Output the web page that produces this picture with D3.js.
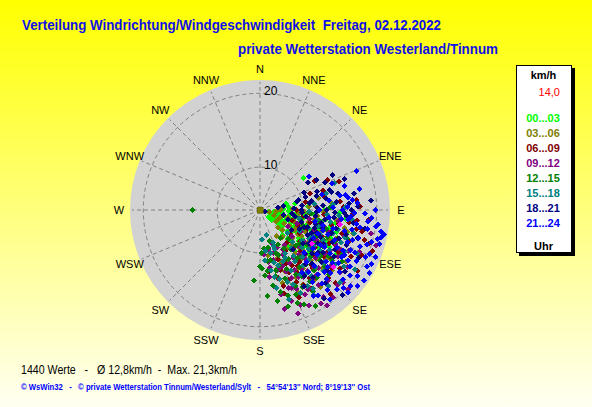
<!DOCTYPE html>
<html><head><meta charset="utf-8">
<script src="https://cdn.jsdelivr.net/npm/d3@7"></script>
<style>html,body{margin:0;padding:0;overflow:hidden;background:#fff}svg{display:block}</style>
</head><body>
<script>
// ---------- data ----------
const directions = ["N","NNE","NE","ENE","E","ESE","SE","SSE","S","SSW","SW","WSW","W","WNW","NW","NNW"];
const ringValues = [10, 20];
const timeLabels = ["00...03","03...06","06...09","09...12","12...15","15...18","18...21","21...24"];
const timeColors = ["#00ff00","#808000","#800000","#800080","#008000","#008080","#000080","#0000ff"];
const legendSpeed = "14,0";
const titleLine1 = "Verteilung Windrichtung/Windgeschwindigkeit  Freitag, 02.12.2022";
const titleLine2 = "private Wetterstation Westerland/Tinnum";
const statsLine = "1440 Werte   -   \u00D8 12,8km/h  -  Max. 21,3km/h";
const copyLine = "\u00A9 WsWin32   -   \u00A9 private Wetterstation Tinnum/Westerland/Sylt   -   54\u00B054'13'' Nord; 8\u00B019'13'' Ost";

// [direction in degrees, speed in km/h]
const s0003 = [[95,6.1],[102,6.8],[110,7.2],[118,6.5],[125,7.9],[88,7.4],[98,8.3],[106,8.9],[114,9.4],[121,8.6],[130,9.8],[84,8.1],[92,9.6],[100,10.2],[108,10.8],[117,10.4],[124,11.2],[135,10.1],[79,9.0],[86,10.7],[95,11.5],[103,11.9],[112,12.3],[120,12.8],[128,12.1],[140,11.6],[54,11.5],[90,12.9],[98,13.3],[106,13.8],[115,14.2],[123,13.6],[132,13.0],[145,12.4],[150,10.9],[138,8.8],[128,7.4],[82,6.6],[76,7.8],[112,8.0],[104,7.6],[96,9.1],[118,11.6],[126,10.6],[109,12.6],[100,14.6],[110,15.3],[88,14.0],[96,15.8],[104,16.4],[92,15.0],[99,5.4],[115,5.9],[130,6.3],[108,6.0],[121,9.9],[134,11.4],[101,12.7],[113,10.9],[119,7.7],[127,8.9],[105,9.9],[93,10.9],
  [104,6.4],[111,6.9],[116,7.5],[123,7.1],[106,8.4],[113,8.7],[119,9.1],[126,9.4],[101,9.4],[109,9.8],[116,10.1],[122,10.5],[129,10.9],[105,11.1],[111,11.4],[117,11.8],[124,12.2],[131,11.9],[102,12.3],[108,13.0],[114,13.1],[119,13.4],[127,13.9],[103,14.0],[112,14.5],[118,14.9],[125,15.1],[97,7.2],[92,8.0],[133,8.2],[137,9.6],[142,10.3],[108,5.6],[121,6.0],[128,5.7],[96,10.4],[99,12.1],[106,15.0],[120,16.1],[98,17.0]];
const s0306 = [[100,5.5],[112,6.2],[125,6.9],[90,7.0],[135,7.6],[105,8.1],[118,8.7],[128,9.3],[140,9.0],[95,9.5],[110,10.2],[122,10.8],[134,11.3],[146,10.5],[86,10.9],[100,11.6],[114,12.2],[127,12.7],[139,12.9],[152,12.0],[92,12.8],[106,13.4],[119,13.9],[131,14.3],[144,14.0],[158,13.2],[98,14.7],[111,15.2],[124,15.6],[137,15.1],[150,15.8],[163,14.6],[84,13.9],[78,12.3],[116,16.5],[130,16.9],[104,17.2],[142,17.5],[120,9.6],[108,7.2],[160,11.1],[170,10.4],[148,8.4],[155,16.6],[82,7.3],[88,8.6],[96,6.4],[116,11.0],[126,13.1],[113,14.4],[136,12.4],[148,13.7],[102,15.9],[121,17.8],
  [108,9.0],[115,9.7],[123,10.3],[131,10.0],[138,10.6],[104,11.0],[118,11.5],[125,12.0],[133,12.3],[141,11.8],[110,12.9],[117,13.5],[124,14.1],[129,13.5],[135,13.9],[112,16.0],[119,16.4],[127,15.4],[133,15.7],[141,16.2],[104,16.3],[96,12.0],[92,10.2],[146,12.6],[152,14.6],[158,11.7],[164,12.5],[120,7.9],[132,8.3],[113,7.0]];
const s0609 = [[62,12.6],[70,15.6],[73,13.1],[84,17.3],[88,17.7],[95,19.0],[66,14.2],[78,13.0],[86,11.8],[94,12.9],[102,14.1],[110,15.4],[118,16.3],[126,17.6],[134,18.4],[142,17.1],[150,15.9],[158,14.4],[165,13.8],[172,12.6],[160,11.3],[148,10.7],[136,12.0],[124,13.2],[112,11.1],[100,10.0],[90,9.2],[80,10.5],[72,11.3],[98,16.4],[106,18.9],[114,19.2],[122,19.8],[130,15.0],[138,14.8],[146,13.3],[154,12.2],[120,10.4],[108,8.8],[128,9.5],[140,9.9],[96,13.6],[104,12.4],[116,14.6],[132,16.2],[156,17.2],[164,16.0],[84,15.1],[92,16.8],[110,20.4],[165,13.6],[118,12.2],[126,14.9],[106,15.8],[138,11.1],[144,15.6],[101,17.5],[113,13.3],
  [104,11.2],[111,12.3],[119,13.6],[125,12.6],[131,13.8],[137,14.3],[143,13.0],[149,14.1],[155,13.5],[161,12.8],[108,14.3],[115,15.5],[121,15.0],[129,16.7],[135,17.3],[141,16.0],[147,16.9],[153,15.1],[100,15.0],[96,17.4],[102,18.3],[109,17.0],[117,18.0],[124,16.0],[140,19.0],[88,15.5],[94,11.0],[112,9.7],[128,11.1],[150,12.9],[163,15.0],[107,19.6]];
const s0912 = [[112,14.0],[120,15.2],[128,16.4],[136,17.5],[144,18.8],[145,20.0],[152,17.2],[158,15.6],[166,18.0],[171,11.3],[162,12.5],[158,12.4],[150,13.6],[142,14.7],[134,12.8],[126,11.6],[118,10.5],[110,12.0],[104,13.1],[98,14.9],[107,20.6],[115,17.4],[123,18.3],[131,19.1],[139,15.9],[147,15.0],[155,14.3],[160,15.4],[170,12.1],[175,10.2],[168,9.6],[160,9.0],[150,10.4],[140,11.0],[130,9.8],[120,8.6],[107,16.2],[102,19.6],[113,18.8],[127,13.9],[137,13.3],[145,12.1],[153,11.0],[165,11.2],[118,12.9],[110,9.5],[100,11.0],[142,17.1],[157,18.2],[148,16.6],[132,20.3],[124,14.8],[116,16.1],[135,15.4],
  [118,14.0],[124,13.0],[131,14.1],[137,14.9],[143,15.9],[149,16.8],[155,16.0],[161,17.2],[166,16.0],[170,14.7],[172,13.4],[164,12.7],[157,13.2],[151,12.4],[145,14.0],[139,12.2],[133,11.4],[127,12.5],[121,16.5],[128,17.9],[134,18.8],[140,19.6],[147,19.3],[153,18.7],[160,19.1],[114,15.4],[108,13.9],[102,16.9],[150,14.7],[163,10.3],[156,9.8],[145,10.0]];
const s1215 = [[270,13.4],[185,13.8],[175,15.9],[166,15.7],[162,16.4],[155,15.6],[148,14.8],[140,13.9],[165,12.7],[172,11.2],[178,10.0],[168,9.4],[158,10.8],[150,11.9],[142,12.4],[135,11.0],[128,12.8],[120,14.0],[113,15.2],[106,13.6],[100,12.3],[94,11.1],[125,16.1],[133,17.0],[140,16.2],[147,17.4],[155,18.3],[160,14.1],[170,14.6],[176,13.1],[180,11.8],[163,8.6],[152,9.5],[144,8.9],[136,9.7],[118,11.5],[110,10.4],[103,9.8],[130,14.8],[122,17.3],[115,12.6],[88,13.7],[96,15.3],[150,19.2],[158,17.8],[126,12.1],[138,15.2],[108,16.6],
  [115,13.7],[121,12.9],[127,14.5],[133,13.5],[139,12.6],[145,13.6],[151,14.2],[156,13.0],[161,12.1],[167,13.4],[173,12.5],[178,12.1],[169,16.7],[164,17.8],[157,16.6],[151,16.1],[145,16.0],[138,17.8],[131,15.9],[124,15.4],[118,16.9],[112,14.0],[106,12.5],[142,11.0],[148,10.3],[154,11.7],[160,10.5],[168,11.1],[174,9.4],[130,11.3]];
const s1518 = [[176,8.2],[165,7.7],[160,9.8],[152,11.5],[146,12.6],[140,10.9],[132,11.8],[124,12.9],[116,13.7],[108,14.6],[100,12.0],[92,10.8],[84,11.6],[76,13.4],[70,14.9],[88,15.8],[96,16.7],[104,17.3],[112,16.0],[120,15.1],[128,14.2],[136,13.6],[144,14.8],[148,17.8],[148,16.3],[156,15.2],[164,13.9],[170,12.5],[174,11.1],[166,10.2],[158,8.9],[130,9.1],[118,10.3],[110,11.2],[102,9.6],[94,13.3],[86,14.1],[114,18.6],[122,19.4],[138,18.1],[162,16.9],[126,16.8],[134,16.1],[142,15.5],[168,15.0],[104,15.1],[116,12.1],[129,12.6],
  [112,13.0],[118,14.3],[124,14.0],[130,15.4],[136,15.0],[142,13.7],[148,14.5],[153,13.4],[159,14.6],[162,12.1],[156,11.8],[150,11.0],[144,11.9],[138,12.8],[126,11.2],[120,11.9],[106,12.4],[100,13.9],[94,14.9],[108,16.3],[116,17.0],[124,17.9],[132,18.8],[146,17.0],[154,16.7],[168,13.5],[172,9.8],[160,9.4],[165,11.6],[135,10.4]];
const s1821 = [[109,4.9],[82,6.7],[80,7.4],[77,9.3],[74,10.6],[60,11.7],[56,12.2],[62,12.9],[74,14.0],[76,14.2],[78,15.0],[86,16.3],[88,17.5],[92,14.4],[98,13.1],[104,12.0],[110,11.0],[116,10.1],[122,9.3],[128,11.6],[134,12.7],[140,13.8],[146,15.0],[124,14.5],[118,15.7],[112,16.8],[106,17.9],[100,18.6],[94,16.0],[86,12.8],[80,11.3],[68,10.6],[90,9.8],[96,8.6],[102,7.4],[108,8.2],[114,13.2],[120,12.3],[132,16.4],[138,17.5],[126,18.4],[144,19.0],[150,16.1],[85,19.3],[70,16.4],[64,15.1],[100,15.2],[108,14.4],[116,19.0],[130,13.4],[140,11.2],[136,20.2],[72,12.3],[84,9.9],[92,11.9],[98,10.5],[106,13.0],[112,12.5],[67,13.7],
  [88,8.8],[94,9.9],[100,9.0],[106,10.1],[112,10.6],[118,11.5],[124,12.2],[96,11.8],[102,12.7],[108,12.0],[114,11.8],[120,13.3],[126,13.9],[90,13.2],[96,14.3],[104,14.8],[110,15.6],[118,14.0],[84,14.6],[80,13.3],[76,12.1],[82,11.0],[88,12.0],[92,15.6],[98,17.0],[106,16.3],[114,14.9],[122,16.0],[130,15.1],[136,14.3],[142,15.8],[80,17.1],[90,16.6],[75,9.6]];
const s2124 = [[56,12.2],[68,18.3],[78,18.0],[80,16.0],[90,19.8],[97,20.3],[101,21.3],[103,21.0],[104,20.6],[108,19.4],[112,20.2],[118,19.0],[124,20.1],[124,21.2],[130,20.2],[133,19.7],[133,20.5],[140,18.4],[136,17.2],[128,17.8],[120,16.9],[114,17.6],[106,18.1],[98,17.4],[92,18.4],[84,16.8],[80,15.2],[74,16.1],[70,14.6],[88,14.1],[96,15.3],[104,16.0],[112,15.1],[120,14.3],[128,15.5],[136,14.8],[144,16.3],[148,17.9],[142,19.6],[116,21.0],[110,18.6],[100,19.0],[94,16.6],[82,13.6],[108,13.2],[118,12.4],[126,13.1],[134,12.5],[102,11.8],[90,12.2],[76,12.8],[146,14.4],[138,15.9],[122,18.6],[114,19.8],[98,20.1],[106,21.0],[92,17.0],[100,17.9],[110,16.8],[118,17.2],[126,16.4],[130,18.9],[86,17.4],[96,18.9],
  [96,16.2],[102,16.9],[108,17.4],[114,18.3],[120,17.9],[126,19.3],[132,17.0],[104,14.4],[110,14.0],[116,15.8],[122,15.4],[128,14.0],[134,16.3],[140,17.2],[100,20.8],[106,19.9],[112,21.1],[118,20.6],[120,21.3],[128,20.9],[94,19.3],[82,16.2],[88,16.0],[90,15.4],[96,13.6],[104,13.0],[112,12.7],[120,13.7],[138,13.6],[142,14.9],[146,18.2],[136,19.2],[130,16.2],[124,17.0],[116,16.7]];
const timeSeries = [s0003, s0306, s0609, s0912, s1215, s1518, s1821, s2124];
const highlight = [[123,12.6],[128,16.8],[100,15.2]];
const calm = [[0,4.2]];

// ---------- drawing ----------
const W = 592, H = 407;
const cx = 260, cy = 210;
const font = "'Liberation Sans', Arial, Helvetica, sans-serif";
const svg = d3.select("body").append("svg").attr("width", W).attr("height", H);

const defs = svg.append("defs");
const grad = defs.append("linearGradient").attr("id", "bg").attr("x1", 0).attr("y1", 0).attr("x2", 0).attr("y2", 1);
grad.append("stop").attr("offset", "0%").attr("stop-color", "#ffff00");
grad.append("stop").attr("offset", "100%").attr("stop-color", "#fffff2");
svg.append("rect").attr("width", W).attr("height", H).attr("fill", "url(#bg)");

const rScale = d3.scaleLinear().domain([4.2, 21.8]).range([0, 130]);
const aScale = d3.scaleLinear().domain([0, 360]).range([0, 2 * Math.PI]);
const dirAngle = d3.scalePoint().domain(directions).range([0, 360 - 360 / directions.length]);
const colorScale = d3.scaleOrdinal().domain(timeLabels).range(timeColors);

function px(d) { return cx + rScale(d[1]) * Math.sin(aScale(d[0])); }
function py(d) { return cy - rScale(d[1]) * Math.cos(aScale(d[0])); }

const outerR = rScale(rScale.domain()[1]);
svg.append("circle").attr("cx", cx).attr("cy", cy).attr("r", outerR).attr("fill", "#d2d2d2");

const grid = svg.append("g").attr("stroke", "#808080").attr("stroke-dasharray", "4,3").attr("fill", "none").attr("stroke-width", 1);
grid.selectAll("line").data(directions).join("line")
  .attr("x1", cx).attr("y1", cy)
  .attr("x2", d => cx + (outerR - 2) * Math.sin(aScale(dirAngle(d))))
  .attr("y2", d => cy - (outerR - 2) * Math.cos(aScale(dirAngle(d))));
grid.selectAll("circle").data(ringValues).join("circle")
  .attr("cx", cx).attr("cy", cy).attr("r", d => rScale(d));

svg.selectAll(".ringlab").data(ringValues).join("text")
  .attr("x", cx + 4).attr("y", d => cy - rScale(d) + 2)
  .attr("font-family", font).attr("font-size", 12).attr("fill", "#000")
  .text(d => d);

svg.selectAll(".dirlab").data(directions).join("text")
  .attr("x", d => cx + 141 * Math.sin(aScale(dirAngle(d))))
  .attr("y", d => cy - 141 * Math.cos(aScale(dirAngle(d))) + 4)
  .attr("text-anchor", "middle")
  .attr("font-family", font).attr("font-size", 11).attr("fill", "#000")
  .text(d => d);

const diamond = "M0,-3L3,0L0,3L-3,0Z";
const pts = svg.append("g").attr("shape-rendering", "crispEdges");
timeSeries.forEach((arr, i) => {
  pts.append("g").attr("fill", colorScale(timeLabels[i]))
    .selectAll("path").data(arr).join("path")
    .attr("d", diamond)
    .attr("transform", d => `translate(${px(d)},${py(d)})`);
});
pts.append("g").attr("fill", "#ff00ff").selectAll("path").data(highlight).join("path")
  .attr("d", diamond).attr("transform", d => `translate(${px(d)},${py(d)})`);
pts.append("g").selectAll("rect").data(calm).join("rect")
  .attr("x", d => px(d) - 3).attr("y", d => py(d) - 3).attr("width", 6).attr("height", 6)
  .attr("fill", timeColors[1]).attr("stroke", "#605f00").attr("stroke-width", 0.5);

// titles
svg.append("text").attr("x", 22).attr("y", 30).attr("font-family", font).attr("font-weight", "bold")
  .attr("font-size", 14).attr("fill", "#1010e8").attr("textLength", 419).attr("lengthAdjust", "spacingAndGlyphs")
  .style("white-space", "pre").text(titleLine1);
svg.append("text").attr("x", 238).attr("y", 54).attr("font-family", font).attr("font-weight", "bold")
  .attr("font-size", 14).attr("fill", "#1010e8").attr("textLength", 260).attr("lengthAdjust", "spacingAndGlyphs").text(titleLine2);

// legend
const lg = svg.append("g");
lg.append("rect").attr("x", 519).attr("y", 68).attr("width", 56).attr("height", 188).attr("fill", "#000");
lg.append("rect").attr("x", 516.5).attr("y", 65.5).attr("width", 55).attr("height", 187).attr("fill", "#fff").attr("stroke", "#000").attr("stroke-width", 1);
lg.append("text").attr("x", 543.5).attr("y", 79).attr("text-anchor", "middle").attr("font-family", font)
  .attr("font-weight", "bold").attr("font-size", 11).attr("fill", "#000").text("km/h");
lg.append("text").attr("x", 560).attr("y", 96).attr("text-anchor", "end").attr("font-family", font)
  .attr("font-size", 11).attr("fill", "#ff0000").text(legendSpeed);
lg.selectAll(".tl").data(timeLabels).join("text")
  .attr("x", 543).attr("y", (d, i) => 122 + i * 15).attr("text-anchor", "middle")
  .attr("font-family", font).attr("font-weight", "bold").attr("font-size", 11)
  .attr("fill", d => colorScale(d)).text(d => d);
lg.append("text").attr("x", 543.5).attr("y", 250).attr("text-anchor", "middle").attr("font-family", font)
  .attr("font-weight", "bold").attr("font-size", 11).attr("fill", "#000").text("Uhr");

// footer
svg.append("text").attr("x", 21).attr("y", 373.5).attr("font-family", font).attr("font-size", 12)
  .attr("fill", "#000").attr("textLength", 216).attr("lengthAdjust", "spacingAndGlyphs")
  .style("white-space", "pre").text(statsLine);
svg.append("text").attr("x", 21).attr("y", 389.5).attr("font-family", font).attr("font-size", 8.5).attr("font-weight", "bold")
  .attr("fill", "#0000ff").attr("textLength", 349).attr("lengthAdjust", "spacingAndGlyphs")
  .style("white-space", "pre").text(copyLine);
</script>
</body></html>
